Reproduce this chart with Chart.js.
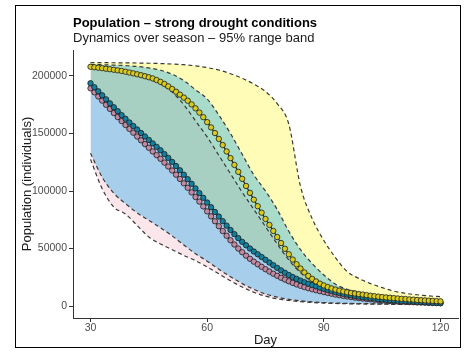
<!DOCTYPE html>
<html>
<head>
<meta charset="UTF-8">
<title>Population - strong drought conditions</title>
<script src="https://cdn.jsdelivr.net/npm/chart.js@4.4.1/dist/chart.umd.min.js"></script>
<style>
  html, body { margin: 0; padding: 0; background: #ffffff; }
  #wrap { width: 466px; height: 354px; }
</style>
</head>
<body>
<div id="wrap"><canvas id="chart" width="466" height="354"></canvas></div>
<script>
// daily means (individuals)
const days = [30,31,32,33,34,35,36,37,38,39,40,41,42,43,44,45,46,47,48,49,50,51,52,53,54,55,56,57,58,59,60,
  61,62,63,64,65,66,67,68,69,70,71,72,73,74,75,76,77,78,79,80,81,82,83,84,85,86,87,88,89,90,
  91,92,93,94,95,96,97,98,99,100,101,102,103,104,105,106,107,108,109,110,111,112,113,114,115,116,117,118,119,120];

const yellowMean = [208000,207600,207200,206800,206300,205900,205400,204900,204400,203700,203000,
  202300,201500,200700,199800,198900,197900,196500,194900,193100,191000,
  188700,186300,183800,181200,178500,175300,171900,168200,164200,159900,
  155300,150400,145300,140000,134400,128600,122700,116700,110600,104400,
  98400,92500,86800,81200,75700,70500,65300,60000,54800,49800,
  45000,40400,36300,32600,29200,26200,23600,21400,19500,17900,
  16500,15300,14300,13400,12700,12000,11400,10900,10400,10000,
  9500,9000,8600,8200,7800,7500,7200,6900,6600,6300,
  6100,5800,5600,5300,5100,4900,4700,4500,4300,4100];

const blueMean = [193700,190200,186700,183200,179700,176200,172800,169400,166000,162800,159600,
  156500,153500,150400,147400,144400,141400,138400,135400,132100,128800,
  125300,121700,118000,114200,110300,106300,102300,98200,94100,90000,
  85900,81800,77800,73800,69900,66100,62500,59000,55800,52800,
  50000,47400,45000,42600,40200,37800,35500,33200,31000,28900,
  27000,25200,23600,22100,20700,19400,18200,17100,16000,15000,
  14000,13000,12100,11300,10600,9900,9300,8700,8200,7700,
  7300,6900,6500,6100,5800,5500,5200,4900,4700,4500,
  4300,4100,3900,3700,3500,3300,3100,2900,2800,2600];

const pinkMean = [189300,185800,182200,178600,175000,171400,167800,164300,160800,157400,154000,
  150700,147400,144100,140800,137600,134400,131200,128000,124700,121300,
  117800,114200,110500,106700,102800,98800,94800,90800,86600,82300,
  78000,73700,69400,65200,61100,57200,53500,50000,46800,43800,
  41100,38600,36300,34100,32000,30000,28100,26300,24600,23000,
  21500,20100,18800,17600,16500,15500,14600,13700,12900,12100,
  11400,10700,10000,9400,8800,8300,7800,7300,6900,6500,
  6100,5800,5500,5200,4900,4600,4400,4200,4000,3800,
  3600,3400,3300,3100,3000,2900,2700,2600,2500,2400];

// 95% range band edges, every 3 days
const bandDays = [30,33,36,39,42,45,48,51,54,57,60,63,66,69,72,75,78,81,84,87,90,93,96,99,102,105,108,111,114,117,120];

const yellowUpper = [211600,211600,211500,211400,211300,211100,210800,210400,209800,208800,207300,
  205200,202000,198000,193000,186500,176000,158000,104000,76000,57000,
  42000,30000,24000,19500,16000,13000,11000,9800,8800,8100];
const blueUpper = [210000,209800,209500,209000,208300,207000,205000,201500,196000,188000,180000,
  166000,150000,132000,114000,100000,84000,65000,49000,37000,27000,
  19000,14500,12000,10000,8500,7500,6800,6200,5800,5500];
const blueLower = [132800,112000,98000,89000,81000,74500,68000,61000,53000,45500,39000,
  32000,25500,19500,14500,10500,7800,5800,4500,3600,3000,
  2600,2300,2100,2000,1900,1800,1800,1700,1700,1700];
const pinkUpper = [207000,205800,204400,202600,200200,197400,193000,186000,175000,161000,147000,
  131000,115000,99000,84000,69000,54000,40000,29000,21000,15500,
  11500,9000,7500,6500,5700,5000,4500,4100,3800,3500];
const pinkLower = [127500,102000,86000,80000,70000,60000,54000,49000,44000,39500,34000,
  28000,22000,16500,12000,8600,6300,4800,3800,3100,2600,
  2200,2000,1800,1700,1600,1500,1500,1500,1500,1500];

const xTicks = [30, 60, 90, 120];
const yTicks = [0, 50000, 100000, 150000, 200000];

const titleText = 'Population \u2013 strong drought conditions';
const subtitleText = 'Dynamics over season \u2013 95% range band';
const FONT = '"Liberation Sans", Arial, Helvetica, sans-serif';

const pts = (xs, ys) => xs.map((x, i) => ({ x: x, y: ys[i] }));

function meanSet(label, values, colour) {
  return {
    label: label,
    data: pts(days, values),
    borderColor: '#1a1a1a',
    borderWidth: 1.2,
    pointRadius: 2.7,
    pointBorderWidth: 0.8,
    pointBorderColor: '#1a1a1a',
    pointBackgroundColor: colour,
    fill: false
  };
}

function edgeSet(label, values, fill, colour) {
  return {
    label: label,
    data: pts(bandDays, values),
    borderColor: '#3a3a3a',
    borderWidth: 1.2,
    borderDash: [4, 3],
    pointRadius: 0,
    cubicInterpolationMode: 'monotone',
    fill: fill,
    backgroundColor: colour || 'rgba(0,0,0,0)'
  };
}

const frame = {
  id: 'frame',
  afterDraw(chart) {
    const ctx = chart.ctx;
    ctx.save();
    ctx.strokeStyle = '#000000';
    ctx.lineWidth = 1;
    ctx.strokeRect(15.5, 5.5, 445, 342);
    ctx.textAlign = 'left';
    ctx.textBaseline = 'alphabetic';
    ctx.fillStyle = '#000000';
    ctx.font = 'bold 13px ' + FONT;
    ctx.fillText(titleText, 73, 27);
    ctx.fillStyle = '#1a1a1a';
    ctx.font = '13px ' + FONT;
    ctx.fillText(subtitleText, 73, 42);
    ctx.restore();
  }
};

new Chart(document.getElementById('chart').getContext('2d'), {
  type: 'line',
  data: {
    datasets: [
      meanSet('Yellow', yellowMean, '#d8cb1e'),
      meanSet('Blue', blueMean, '#11809f'),
      meanSet('Pink', pinkMean, '#c48aa4'),
      edgeSet('Blue upper', blueUpper, 4, 'rgba(30,165,235,0.38)'),
      edgeSet('Blue lower', blueLower, false),
      edgeSet('Yellow upper', yellowUpper, 1, 'rgba(255,245,40,0.33)'),
      edgeSet('Pink upper', pinkUpper, 7, 'rgba(235,140,165,0.22)'),
      edgeSet('Pink lower', pinkLower, false)
    ]
  },
  options: {
    responsive: false,
    devicePixelRatio: 1,
    animation: false,
    layout: { padding: { left: 16, right: 8, top: 50, bottom: 0 } },
    plugins: {
      legend: { display: false },
      tooltip: { enabled: false },
      filler: { drawTime: 'beforeDatasetsDraw' }
    },
    scales: {
      x: {
        type: 'linear',
        min: 25.5,
        max: 124.5,
        afterFit: s => { s.height = 36; },
        afterBuildTicks: s => { s.ticks = xTicks.map(v => ({ value: v })); },
        grid: { drawOnChartArea: false, drawTicks: true, tickLength: 4, tickColor: '#333333' },
        border: { display: true, color: '#333333', width: 1 },
        ticks: { color: '#4d4d4d', font: { family: FONT, size: 10.5 }, padding: 0, maxRotation: 0, callback: v => String(v) },
        title: { display: true, text: 'Day', color: '#1a1a1a', font: { family: FONT, size: 13 }, padding: { top: 0, bottom: 6 } }
      },
      y: {
        type: 'linear',
        min: -10400,
        max: 222600,
        afterFit: s => { s.width = 57; },
        afterBuildTicks: s => { s.ticks = yTicks.map(v => ({ value: v })); },
        grid: { drawOnChartArea: false, drawTicks: true, tickLength: 4, tickColor: '#333333' },
        border: { display: true, color: '#333333', width: 1 },
        ticks: { color: '#4d4d4d', font: { family: FONT, size: 10.5 }, padding: 2, callback: v => String(v) },
        title: { display: true, text: 'Population (individuals)', color: '#1a1a1a', font: { family: FONT, size: 13 }, padding: { top: 4, bottom: 0 } }
      }
    }
  },
  plugins: [frame]
});
</script>
</body>
</html>
